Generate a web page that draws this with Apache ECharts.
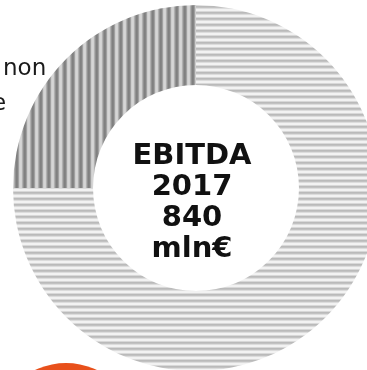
<!DOCTYPE html>
<html>
<head>
<meta charset="utf-8">
<script src="https://cdn.jsdelivr.net/npm/echarts@6/dist/echarts.min.js"></script>
<style>
  html, body { margin: 0; padding: 0; background: #ffffff; }
  #chart { width: 367px; height: 370px; }
</style>
</head>
<body>
<div id="chart"></div>
<script>
// EBITDA 2017 split (mln€): regulated vs non-regulated activities
const categories = ['Attività regolate', 'Attività non regolate'];
const values = [630, 210];
const centerLines = ['EBITDA', '2017', '840', 'mln€'];
const sideLines = ['non', 'e'];

// striped fills drawn on small canvases and repeated
function stripePattern(colors, vertical) {
  const n = colors.length;
  const c = document.createElement('canvas');
  c.width = vertical ? n : 4;
  c.height = vertical ? 4 : n;
  const ctx = c.getContext('2d');
  colors.forEach(function (col, i) {
    ctx.fillStyle = col;
    if (vertical) ctx.fillRect(i, 0, 1, 4);
    else ctx.fillRect(0, i, 4, 1);
  });
  return { image: c, repeat: 'repeat' };
}

const lightFill = stripePattern(
  ['#bababa', '#c2c2c2', '#dcdcdc', '#f2f2f2', '#f2f2f2', '#d8d8d8'], false);
const darkFill = stripePattern(
  ['#808080', '#858585', '#a0a0a0', '#cdcdcd', '#d6d6d6', '#d2d2d2', '#b0b0b0', '#929292'], true);

const fills = [lightFill, darkFill];

const chart = echarts.init(document.getElementById('chart'), null, { renderer: 'canvas' });
chart.setOption({
  animation: false,
  backgroundColor: '#ffffff',
  series: [{
    type: 'pie',
    center: [196, 188],
    radius: [103, 183],
    startAngle: 90,
    clockwise: true,
    silent: true,
    label: { show: false },
    labelLine: { show: false },
    itemStyle: { borderWidth: 0 },
    data: categories.map(function (name, i) {
      return { name: name, value: values[i], itemStyle: { color: fills[i] } };
    })
  }],
  graphic: [
    {
      type: 'text',
      x: 192, y: 203,
      style: {
        text: centerLines.join('\n'),
        align: 'center',
        verticalAlign: 'middle',
        font: 'bold 29px "DejaVu Sans"',
        lineHeight: 31,
        fill: '#111111'
      }
    },
    {
      type: 'text',
      x: 3, y: 58,
      style: {
        text: sideLines[0],
        font: '23px "DejaVu Sans"',
        fill: '#1a1a1a'
      }
    },
    {
      type: 'text',
      x: -8, y: 93,
      style: {
        text: sideLines[1],
        font: '23px "DejaVu Sans"',
        fill: '#1a1a1a'
      }
    },
    {
      type: 'circle',
      shape: { cx: 66, cy: 435, r: 72 },
      style: { fill: '#e8501b' }
    }
  ]
});
</script>
</body>
</html>
